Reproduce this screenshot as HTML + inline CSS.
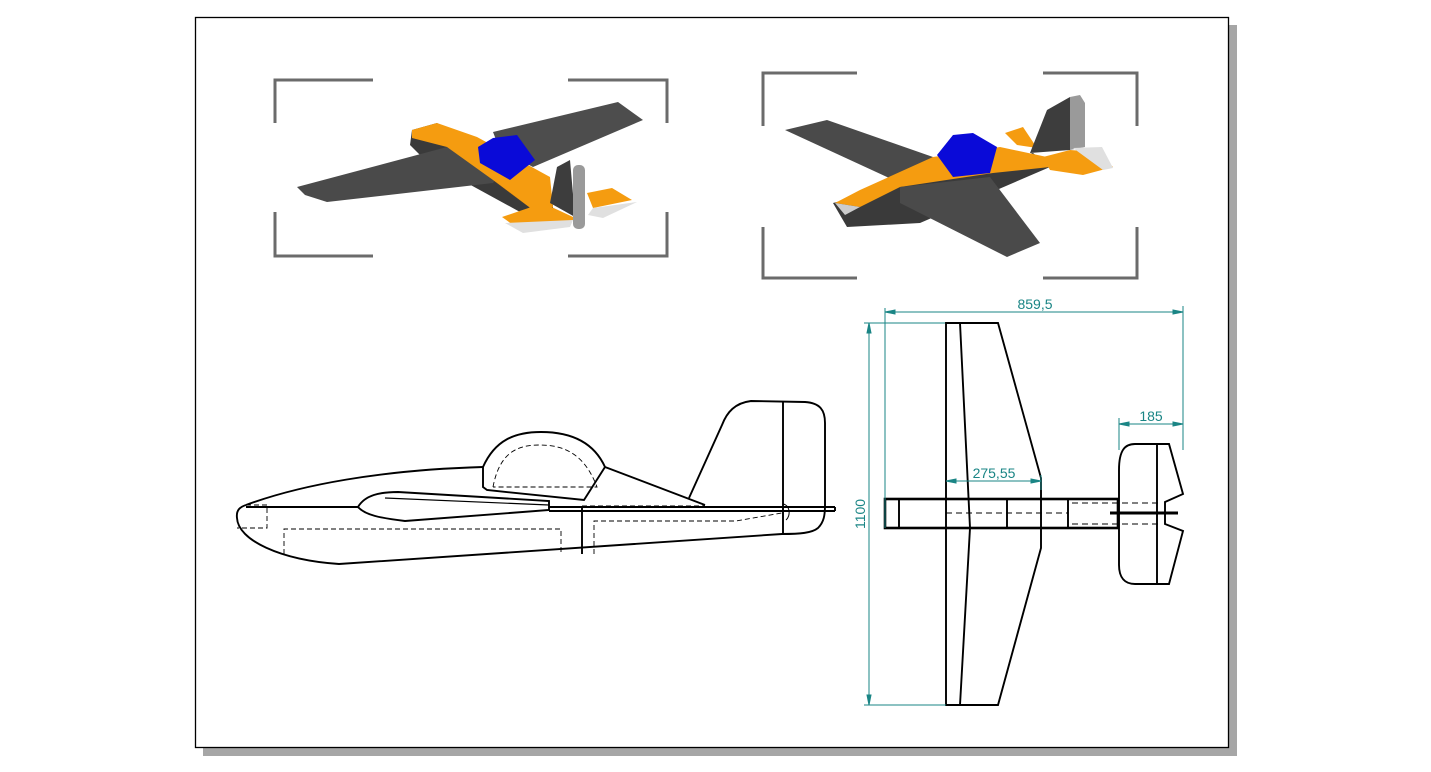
<!DOCTYPE html>
<html><head><meta charset="utf-8"><style>
html,body{margin:0;padding:0;background:#fff;}
svg{display:block;}
</style></head><body>
<svg width="1431" height="772" viewBox="0 0 1431 772" xmlns="http://www.w3.org/2000/svg">
<rect x="0" y="0" width="1431" height="772" fill="#fff"/>
<rect x="203" y="25" width="1034" height="731" fill="#a6a6a6"/>
<rect x="195.5" y="17.5" width="1033" height="730" fill="#fff" stroke="#000" stroke-width="1.3"/>

<!-- frames -->
<g stroke="#6b6b6b" stroke-width="3" fill="none">
<path d="M373 80H275V123M275 212V256H373M568 80H667V123M667 212V256H568"/>
<path d="M857 73H763V126M763 227V278H857M1043 73H1137V126M1137 227V278H1043"/>
</g>

<!-- plane 1 -->
<g>
<polygon points="493,132 618,102 643,120 533,167 500,150" fill="#4d4d4d"/>
<polygon points="412,130 437,123 553,205 553,212 520,212 425,160 410,145" fill="#3a3a3a"/>
<polygon points="297,187 447,147 500,173 493,183 327,202 305,195" fill="#4a4a4a"/>
<polygon points="412,130 437,123 477,137 550,177 553,207 533,210 493,180 447,147 412,138" fill="#f59c10"/>
<polygon points="447,147 493,180 533,210 500,185" fill="#c86f00"/>
<polygon points="478,147 493,138 517,135 535,160 510,180 480,163" fill="#0a0ad8"/>
<polygon points="550,203 557,167 570,160 575,217" fill="#3d3d3d"/>
<polygon points="502,217 543,203 573,217 573,220 520,230" fill="#f59c10"/>
<polygon points="505,223 573,220 570,227 523,233" fill="#e0e0e0"/>
<polygon points="587,193 612,188 632,200 593,208" fill="#f59c10"/>
<polygon points="593,208 637,202 603,218 588,215" fill="#e0e0e0"/>
<rect x="573" y="165" width="12" height="64" rx="5" fill="#9a9a9a"/>
</g>

<!-- plane 2 -->
<g>
<polygon points="785,130 827,120 933,157 900,183" fill="#4a4a4a"/>
<polygon points="833,203 847,227 920,223 1050,167 1033,153" fill="#3a3a3a"/>
<polygon points="835,203 860,190 933,157 1000,147 1047,157 1050,167 993,173 900,187 860,207" fill="#f59c10"/>
<polygon points="835,203 845,215 860,207" fill="#ccc"/>
<polygon points="937,155 953,135 973,133 997,147 990,173 953,177" fill="#0a0ad8"/>
<polygon points="900,187 990,177 1040,243 1007,257 900,203" fill="#4a4a4a"/>
<polygon points="1005,133 1023,127 1037,148 1017,145" fill="#f59c10"/>
<polygon points="1030,153 1047,110 1070,97 1070,150" fill="#3d3d3d"/>
<polygon points="1070,97 1080,95 1085,103 1085,147 1070,150" fill="#9a9a9a"/>
<polygon points="1043,157 1070,150 1097,152 1113,167 1083,175 1050,170" fill="#f59c10"/>
<polygon points="1073,148 1102,147 1113,168 1103,170" fill="#e0e0e0"/>
</g>

<!-- side view -->
<g fill="none" stroke="#000" stroke-width="1.9">
<path d="M246 505 C 240 507 236 510 237 518 C 238 540 280 560 339 564 L782 534 C 800 534 812 533 818 528 C 824 522 825 515 825 505 L825 423 C 825 410 820 403 805 402 L751 401 C 735 403 727 412 722 425 L689 498"/>
<path d="M246 505 C 300 485 380 470 483 467"/>
<path d="M483 467 L483 487 L487 490 L584 500 L605 467"/>
<path d="M483 467 C 495 440 515 432 541 432 C 575 432 595 445 605 467"/>
<path d="M605 467 L705 505"/>
<path d="M246 507 H358 M549 507 H835 M549 511 H835 M835 507 V511"/>
<path d="M358 507 C 365 495 380 492 398 492 L549 501 L549 510 L405 521 C 380 518 365 515 358 507Z"/>
<path d="M385 498 L549 505" stroke-width="1.2"/>
<path d="M582 506 V554"/>
<path d="M783 401 V534"/>
<path d="M783 504 C 790 505 791 516 786 520" stroke-width="1"/>
</g>
<g fill="none" stroke="#000" stroke-width="0.9" stroke-dasharray="5,3">
<path d="M246 505 H267 V528 H237"/>
<path d="M284 554 V529 H561 V554"/>
<path d="M594 554 V521 H736 L782 513"/>
<path d="M582 506 H705"/>
<path d="M493 487 C 500 450 520 445 540 445 C 565 445 585 455 597 487 H493"/>
</g>

<!-- top view -->
<g fill="none" stroke="#000" stroke-width="1.9">
<path d="M946 323 V705 H998 L1041 548 V478 L998 323 Z"/>
<path d="M960 323 L970 528 L960 705"/>
<rect x="885" y="499" width="233" height="29" stroke-width="2.6"/>
<path d="M899 499 V528 M1007 499 V528 M1068 499 V528"/>
<path d="M1119 470 C 1119 450 1125 444 1135 444 H1169 L1183 494 L1165 502 V524 L1183 531 L1169 584 H1135 C 1125 584 1119 578 1119 565 Z"/>
<path d="M1157 444 V584"/>
<path d="M1110 513 H1178" stroke-width="3"/>
</g>
<g fill="none" stroke="#000" stroke-width="0.9" stroke-dasharray="6,4">
<path d="M946 513 H1068 M1072 503 H1160 M1072 524 H1160 M1118 505 V522"/>
</g>

<!-- dimensions -->
<g stroke="#1a8585" stroke-width="1" fill="#1a8585">
<path d="M885 312 H1183 M885 308 V528 M1183 306 V450"/>
<path d="M869 323 V705 M864 323 H945 M864 705 H946"/>
<path d="M946 481 H1041 M1041 475 V490"/>
<path d="M1119 424 H1183 M1119 418 V450"/>
<polygon points="885,312 895,310 895,314"/><polygon points="1183,312 1173,310 1173,314"/>
<polygon points="869,323 867,333 871,333"/><polygon points="869,705 867,695 871,695"/>
<polygon points="946,481 956,479 956,483"/><polygon points="1041,481 1031,479 1031,483"/>
<polygon points="1119,424 1129,422 1129,426"/><polygon points="1183,424 1173,422 1173,426"/>
</g>
<g font-family="Liberation Sans, sans-serif" font-size="14" fill="#1a8585" stroke="none">
<text x="1035" y="309" text-anchor="middle">859,5</text>
<text x="994" y="478" text-anchor="middle">275,55</text>
<text x="1151" y="421" text-anchor="middle">185</text>
<text transform="translate(865,514) rotate(-90)" text-anchor="middle">1100</text>
</g>
</svg>
</body></html>
